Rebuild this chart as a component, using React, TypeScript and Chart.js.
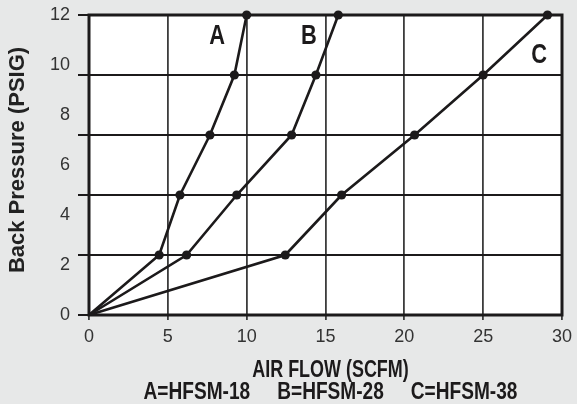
import React, { useEffect, useRef } from "react";
import { Chart, registerables } from "chart.js";

Chart.register(...registerables);

// ---- data ----
const backPressure = [0, 2.4, 4.8, 7.2, 9.6, 12];
const airFlowA = [0, 4.45, 5.77, 7.67, 9.22, 10.0];
const airFlowB = [0, 6.19, 9.37, 12.85, 14.39, 15.81];
const airFlowC = [0, 12.45, 16.02, 20.65, 25.0, 29.08];
const seriesNames = ["A", "B", "C"];
const nameAnchorX = [8.12, 13.95, 28.55];
const nameAnchorY = [11.18, 11.18, 10.41];
const legendParts = ["A=HFSM-18", "B=HFSM-28", "C=HFSM-38"];
const xTitle = "AIR FLOW (SCFM)";
const yTitle = "Back Pressure (PSIG)";

const INK = "#1c1a1b";
const SANS = "'Liberation Sans', Arial, Helvetica, sans-serif";

function condensedText(
  ctx: any,
  text: string,
  x: number,
  y: number,
  align: "left" | "center",
  squeeze: number
) {
  const w = ctx.measureText(text).width * squeeze;
  const left = align === "center" ? x - w / 2 : x;
  ctx.save();
  ctx.textAlign = "left";
  ctx.translate(left, y);
  ctx.scale(squeeze, 1);
  ctx.fillText(text, 0, 0);
  ctx.restore();
  return w;
}

const decorPlugin = {
  id: "decor",
  beforeDraw(chart: any) {
    const { ctx, chartArea: a } = chart;
    ctx.save();
    ctx.fillStyle = "#ffffff";
    ctx.fillRect(a.left, a.top, a.right - a.left, a.bottom - a.top);
    ctx.restore();
  },
  beforeDatasetsDraw(chart: any) {
    const { ctx, chartArea: a } = chart;
    ctx.save();
    ctx.strokeStyle = INK;
    ctx.lineWidth = 3;
    ctx.strokeRect(a.left, a.top, a.right - a.left, a.bottom - a.top);
    ctx.restore();
  },
  afterDraw(chart: any) {
    const { ctx, chartArea: a, scales } = chart;
    const xs = scales.x;
    const ys = scales.y;
    ctx.save();
    ctx.fillStyle = INK;
    ctx.textBaseline = "middle";

    // series letters
    ctx.font = `bold 28px ${SANS}`;
    seriesNames.forEach((n, i) => {
      condensedText(
        ctx,
        n,
        xs.getPixelForValue(nameAnchorX[i]),
        ys.getPixelForValue(nameAnchorY[i]) + 1,
        "center",
        0.78
      );
    });

    // y title
    ctx.save();
    ctx.textAlign = "center";
    ctx.font = `bold 22px ${SANS}`;
    ctx.fillStyle = "#222";
    ctx.translate(18, (a.top + a.bottom) / 2 - 5);
    ctx.rotate(-Math.PI / 2);
    ctx.fillText(yTitle, 0, 0);
    ctx.restore();

    // x title
    const cx = (a.left + a.right) / 2 + 5;
    ctx.font = `bold 23px ${SANS}`;
    condensedText(ctx, xTitle, cx, a.bottom + 56, "center", 0.78);

    // legend line
    const sq = 0.83;
    const gap = 27;
    const widths = legendParts.map((p) => ctx.measureText(p).width * sq);
    const total = widths.reduce((s, w) => s + w, 0) + gap * (legendParts.length - 1);
    let x = cx - total / 2;
    legendParts.forEach((p, i) => {
      condensedText(ctx, p, x, a.bottom + 77.5, "left", sq);
      x += widths[i] + gap;
    });
    ctx.restore();
  },
};

function makeSeries(xs: number[]) {
  return xs.map((v, i) => ({ x: v, y: backPressure[i] }));
}

export default function App() {
  const canvasRef = useRef<HTMLCanvasElement | null>(null);

  useEffect(() => {
    document.body.style.margin = "0";
    const canvas = canvasRef.current;
    if (!canvas) return;
    const lineStyle = {
      borderColor: INK,
      borderWidth: 2.6,
      pointBackgroundColor: INK,
      pointBorderColor: INK,
      pointBorderWidth: 0,
      pointRadius: (c: any) => (c.dataIndex === 0 ? 0 : 4.6),
      tension: 0,
      fill: false,
      clip: false as any,
    };
    const chart = new Chart(canvas, {
      type: "line",
      data: {
        datasets: [
          { label: seriesNames[0], data: makeSeries(airFlowA), ...lineStyle },
          { label: seriesNames[1], data: makeSeries(airFlowB), ...lineStyle },
          { label: seriesNames[2], data: makeSeries(airFlowC), ...lineStyle },
        ],
      },
      options: {
        animation: false,
        responsive: true,
        maintainAspectRatio: false,
        layout: { padding: { top: 15, right: 15, left: 0, bottom: 0 } },
        plugins: { legend: { display: false }, tooltip: { enabled: false } },
        scales: {
          x: {
            type: "linear",
            min: 0,
            max: 30,
            ticks: {
              stepSize: 5,
              color: "#333",
              font: { family: SANS, size: 18 },
              padding: 6,
              maxRotation: 0,
            },
            grid: { color: "#3c3c3c", lineWidth: 1.8, drawTicks: true, tickLength: 5 },
            border: { display: false },
            afterFit: (s: any) => {
              s.height = 89;
              s.paddingLeft = 0;
              s.paddingRight = 0;
            },
          },
          y: {
            type: "linear",
            position: "left",
            weight: 1,
            min: 0,
            max: 12,
            ticks: {
              stepSize: 2,
              color: "#333",
              font: { family: SANS, size: 18 },
              padding: 19,
            },
            grid: { display: false, drawTicks: false },
            border: { display: false },
            afterFit: (s: any) => {
              s.width = 89;
              s.paddingTop = 0;
              s.paddingBottom = 0;
            },
          },
          yGrid: {
            type: "linear",
            position: "left",
            weight: 0,
            min: 0,
            max: 12,
            ticks: { count: 6, display: false },
            grid: { color: INK, lineWidth: 2, drawTicks: true, tickLength: 11 },
            border: { display: false },
            afterFit: (s: any) => {
              s.width = 0;
              s.paddingTop = 0;
              s.paddingBottom = 0;
            },
          },
        },
      },
      plugins: [decorPlugin],
    });
    return () => chart.destroy();
  }, []);

  return (
    <div
      style={{
        position: "absolute",
        left: 0,
        top: 0,
        width: 577,
        height: 404,
        background: "#e7e8e8",
      }}
    >
      <canvas ref={canvasRef} />
    </div>
  );
}
